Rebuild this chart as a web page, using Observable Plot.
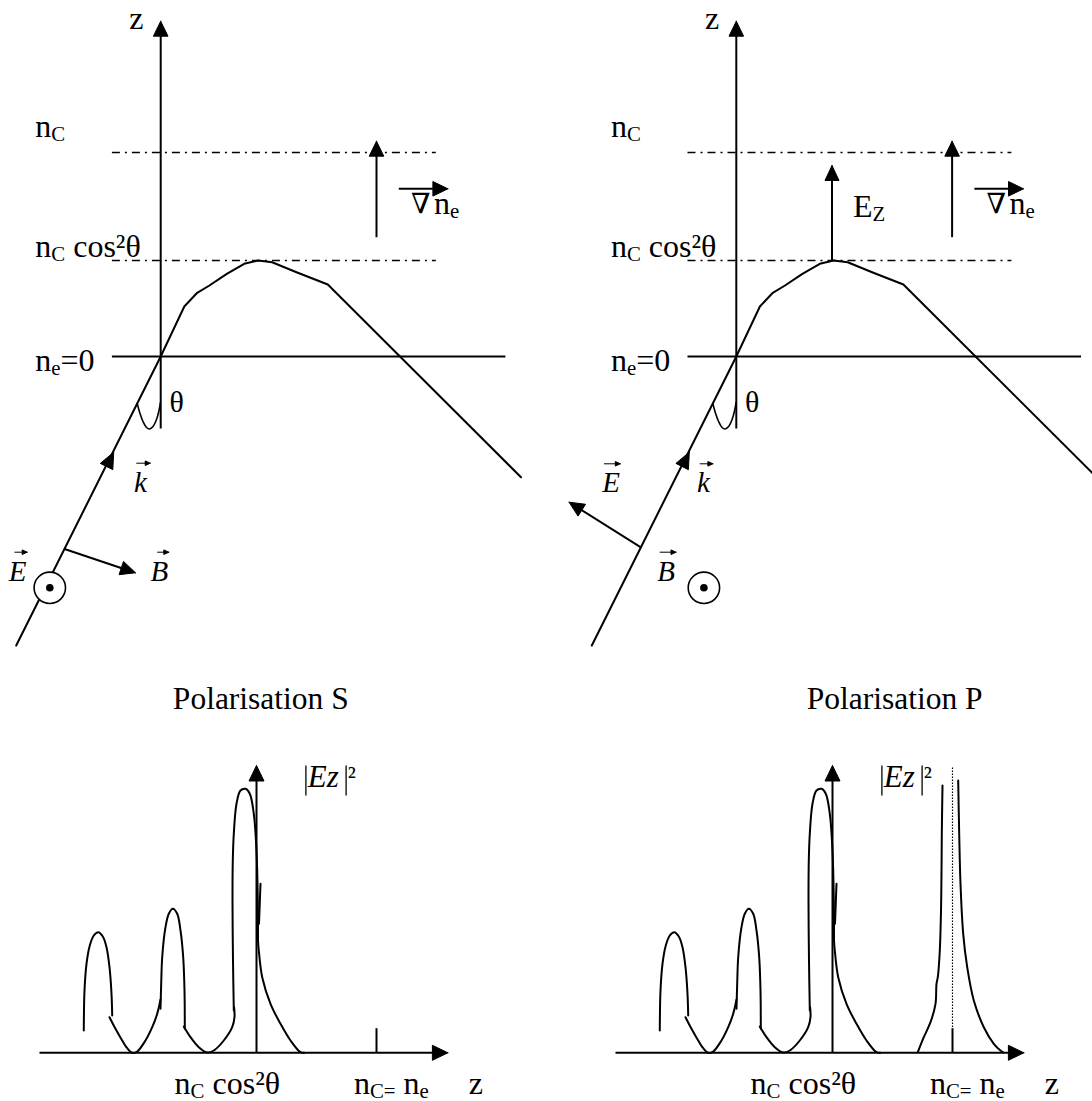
<!DOCTYPE html>
<html>
<head>
<meta charset="utf-8">
<script src="https://cdn.jsdelivr.net/npm/d3@7"></script>
<script src="https://cdn.jsdelivr.net/npm/@observablehq/plot@0.6"></script>
<style>
html, body { margin: 0; padding: 0; background: #fff; overflow: hidden; }
#chart svg text { white-space: pre; font-family: "Liberation Serif", "Times New Roman", "DejaVu Serif", serif !important; }
</style>
</head>
<body>
<div id="chart"></div>
<script>
const W = 1092, H = 1101;
const FONT = "Liberation Serif";

// Diagram units. P panels repeat S geometry, shifted right.
const panels = ["S", "P"];
const shiftTop = {S: 0, P: 575.6};
const shiftBottom = {S: 0, P: 576};

// ---------- top panels: density profile, ray, levels ----------
const densityProfile = [[160.2,356],[183.8,306],[196.7,292.3],[208.9,285],[226.3,273.3],[243.7,263.3],[257.7,260],[271.6,261.7],[296,271.7],[327.3,284],[520.5,476.7]];
const incidentRay = [[160.2,356],[15.7,645]];
const angleArc = [[136.7,403],[139.5,413],[142.5,421],[146,427],[149,428.5],[152.5,426],[156,419],[158.5,410],[160,402]];
const dashedLevels = [{x1:111.4, x2:435.3, y:152}, {x1:111.4, x2:435.3, y:260}];
const solidLevels = [{x1:111.4, x2:504.9, y:356}];
const topLabels = [
  {t:"z", x:128.8, y:28.5, size:32},
  {t:"n_{C}", x:34.8, y:136.7, size:32},
  {t:"n_{C} cos\u00b2\u03b8", x:34.8, y:256.7, size:32},
  {t:"n_{e}=0", x:34.8, y:370, size:32},
  {t:"\u2207", x:410.5, y:212.8, size:28},
  {t:"n_{e}", x:433.5, y:213.3, size:32},
  {t:"\u03b8", x:168.9, y:411, size:30}
];
const ezLabelP = {t:"E_{Z}", x:852.4, y:216.7, size:32};

// arrows: shaft from -> tip
const arrowsTop = [
  {from:[160.2,428], tip:[160.2,20.7]},   // z axis
  {from:[376,236.7], tip:[376,140.7]},    // grad n_e
  {from:[398.3,188.3], tip:[447.4,188.3]} // arrow over nabla
];
const arrowsTopS = [{from:[63.3,548.3], tip:[135,572.3]}];          // B
const arrowsTopP = [{from:[831.5,260], tip:[831.5,165]},              // E_Z
                    {from:[640,546.7], tip:[568.6,501.7]}];            // E
const rayHeadTip = [113.2,451.7];
const circles = {S:[49.3,587.3], P:[703.4,587.3]};

// vector letters (italic) and their small over-arrows
const vectorLetters = [
  {t:"E", x:8.3, y:580, a:[14,26.7,551.7]},
  {t:"B", x:150, y:580, a:[156.7,168.3,551.7]},
  {t:"k", x:133.4, y:491.7, a:[135.8,149.7,462.7]},
  {t:"E", x:601.7, y:491.7, a:[603.4,619.8,463.3]},
  {t:"k", x:696.4, y:491.7, a:[699.2,712.4,463.3]},
  {t:"B", x:656.7, y:580, a:[659.2,675.5,551.7]}
];

// ---------- bottom panels: |Ez|^2 along z ----------
const fieldCommon = [
  {seg:"a", pts:[[83.3,1030],[84,990],[86,963.3],[89.3,945],[93.3,935],[97.7,931.7],[102.3,936],[106,946.7],[109,966.7],[111,993.3],[111.7,1015]]},
  {seg:"b", pts:[[109,1016.7],[115,1028.3],[121.7,1040],[126.7,1047.7],[131.7,1052.3],[136.7,1051],[145,1040],[151.7,1026.7],[156.7,1013.3],[160,999]]},
  {seg:"c", pts:[[160,1008.3],[160.7,983.3],[161.7,956.7],[165,926.7],[168.3,913.3],[172.3,908.3],[176.7,913.3],[180,930],[182.7,956.7],[184,990],[184.3,1028.3]]},
  {seg:"d", pts:[[183.3,1026],[190,1036.7],[198.3,1046.7],[206.7,1052],[213.3,1050],[223.3,1040],[231.7,1026.7],[234,1016.7],[233.6,1006.7]]},
  {seg:"e", pts:[[233.3,1010],[232.5,960],[232,900],[232.3,860],[233.3,833.3],[236,803.3],[240,790],[245,788.3],[249.3,793.3],[253.3,813.3],[256,850],[257.3,900],[257.5,940]]},
  {seg:"f", pts:[[260,883.3],[258.5,923.3]]},
  {seg:"g", pts:[[257.5,940],[258.3,950],[261.7,976.7],[270,1003.3],[280,1023.3],[290,1040],[300,1051.7],[304,1052.3]]}
];
const resonanceP = [
  {seg:"h", pts:[[917.3,1051.7],[923.3,1036.7],[930,1021.7],[935,1003.3],[936,983.3],[937.3,976.7],[939.3,950],[940.7,900],[941.3,833.3],[942,785]]},
  {seg:"i", pts:[[957.7,780],[958.7,833.3],[960,883.3],[962.7,933.3],[966.7,966.7],[973.3,1000],[983.3,1026.7],[993.3,1043.3],[1000,1050],[1003,1052]]}
];
const arrowsBottom = [
  {from:[39,1052.3], tip:[447.4,1052.3]},
  {from:[256,1052.3], tip:[256,765]}
];
const ncTick = {x:376, y1:1027.7, y2:1052.3};
const ncDotted = {x:952, y1:767, y2:1027.7};
const titles = [{t:"Polarisation S", x:260.3, y:708.3}, {t:"Polarisation P", x:894.2, y:708.3}];
const bottomLabels = [
  {t:"n_{C} cos\u00b2\u03b8", x:174.1, y:1093.3},
  {t:"n_{C=} n_{e}", x:353.4, y:1093.3},
  {t:"z", x:468.3, y:1093.3}
];
const ezLabel = {t:"Ez", x:307.3, y:786, size:31, sq:[347.3,784], sqSize:27, bars:[305.4,345.6], barY:[765,795]};

// ---------- build mark tables ----------
const shiftPt = ([x,y], dx) => [x + dx, y];
const profilePts = panels.flatMap(p => densityProfile.map(([x,y]) => ({p, x: x + shiftTop[p], y})));
const rayPts = panels.flatMap(p => incidentRay.map(([x,y]) => ({p, x: x + shiftTop[p], y})));
const arcPts = panels.flatMap(p => angleArc.map(([x,y]) => ({p, x: x + shiftTop[p], y})));
const levelRows = (rows) => panels.flatMap(p => rows.map(r => ({x1: r.x1 + shiftTop[p], x2: r.x2 + shiftTop[p], y: r.y})));

let arrows = [];
panels.forEach(p => arrowsTop.forEach(a => arrows.push({from: shiftPt(a.from, shiftTop[p]), tip: shiftPt(a.tip, shiftTop[p]), len:15, half:7.3})));
arrowsTopS.forEach(a => arrows.push({...a, len:15, half:7}));
arrowsTopP.forEach(a => arrows.push({...a, len:15, half:7}));
panels.forEach(p => arrowsBottom.forEach(a => arrows.push({from: shiftPt(a.from, shiftBottom[p]), tip: shiftPt(a.tip, shiftBottom[p]), len:15.5, half:7.5})));
const small = vectorLetters.map(v => ({from:[v.a[0], v.a[2]], tip:[v.a[1], v.a[2]], len:5, half:2.3}));

function unit(a) {
  const dx = a.tip[0] - a.from[0], dy = a.tip[1] - a.from[1], n = Math.hypot(dx, dy);
  return [dx / n, dy / n];
}
function headPolygon(tip, u, len, half, id) {
  const bx = tip[0] - u[0] * len, by = tip[1] - u[1] * len;
  const px = -u[1] * half, py = u[0] * half;
  return [[tip[0], tip[1]], [bx + px, by + py], [bx - px, by - py], [tip[0], tip[1]]].map(([x, y]) => ({id, x, y}));
}
const shafts = [...arrows, ...small].map(a => {
  const u = unit(a);
  return {x1: a.from[0], y1: a.from[1], x2: a.tip[0] - u[0] * a.len * 0.6, y2: a.tip[1] - u[1] * a.len * 0.6, w: a.len < 10 ? 1 : 2};
});
let heads = [];
arrows.forEach((a, i) => heads.push(...headPolygon(a.tip, unit(a), a.len, a.half, "a" + i)));
small.forEach((a, i) => heads.push(...headPolygon(a.tip, unit(a), a.len, a.half, "s" + i)));
// arrowhead on the incident ray, pointing along k
const rayDir = (() => { const dx = incidentRay[0][0] - incidentRay[1][0], dy = incidentRay[0][1] - incidentRay[1][1], n = Math.hypot(dx, dy); return [dx / n, dy / n]; })();
panels.forEach(p => heads.push(...headPolygon(shiftPt(rayHeadTip, shiftTop[p]), rayDir, 16, 7, "k" + p)));

const circleRows = panels.map(p => ({x: circles[p][0], y: circles[p][1]}));

const fieldPts = [];
panels.forEach(p => fieldCommon.forEach(s => s.pts.forEach(([x, y]) => fieldPts.push({key: p + s.seg, x: x + shiftBottom[p], y}))));
resonanceP.forEach(s => s.pts.forEach(([x, y]) => fieldPts.push({key: "P" + s.seg, x, y})));

const uprightTexts = [];
panels.forEach(p => {
  topLabels.forEach(l => uprightTexts.push({...l, x: l.x + shiftTop[p]}));
  bottomLabels.forEach(l => uprightTexts.push({...l, x: l.x + shiftBottom[p], size: 32}));
  uprightTexts.push({t: "\u00b2", x: ezLabel.sq[0] + shiftBottom[p], y: ezLabel.sq[1], size: ezLabel.sqSize});
});
uprightTexts.push({...ezLabelP});
const italicTexts = [
  ...vectorLetters.map(v => ({t: v.t, x: v.x, y: v.y, size: 29})),
  ...panels.map(p => ({t: ezLabel.t, x: ezLabel.x + shiftBottom[p], y: ezLabel.y, size: ezLabel.size}))
];
const barRows = panels.flatMap(p => ezLabel.bars.map(x => ({x: x + shiftBottom[p], y1: ezLabel.barY[0], y2: ezLabel.barY[1]})));
const tickRows = panels.map(p => ({x: ncTick.x + shiftBottom[p], y1: ncTick.y1, y2: ncTick.y2}));

const chart = Plot.plot({
  width: W, height: H, margin: 0,
  x: {domain: [0, W], range: [0, W], axis: null},
  y: {domain: [0, H], range: [0, H], axis: null},
  style: {background: "white", fontFamily: FONT, color: "black"},
  marks: [
    Plot.link(levelRows(dashedLevels), {x1: "x1", x2: "x2", y1: "y", y2: "y", stroke: "black", strokeWidth: 1.3, strokeDasharray: "8,5,2,5"}),
    Plot.link(levelRows(solidLevels), {x1: "x1", x2: "x2", y1: "y", y2: "y", stroke: "black", strokeWidth: 2}),
    Plot.line(profilePts, {x: "x", y: "y", z: "p", stroke: "black", strokeWidth: 2}),
    Plot.line(rayPts, {x: "x", y: "y", z: "p", stroke: "black", strokeWidth: 2}),
    Plot.line(arcPts, {x: "x", y: "y", z: "p", stroke: "black", strokeWidth: 1.6, curve: "catmull-rom"}),
    Plot.link(shafts, {x1: "x1", y1: "y1", x2: "x2", y2: "y2", stroke: "black", strokeWidth: "w"}),
    Plot.line(heads, {x: "x", y: "y", z: "id", fill: "black", stroke: "black", strokeWidth: 1}),
    Plot.dot(circleRows, {x: "x", y: "y", r: 15.7, fill: "white", stroke: "black", strokeWidth: 1.6}),
    Plot.dot(circleRows, {x: "x", y: "y", r: 3.8, fill: "black", stroke: "none"}),
    Plot.line(fieldPts, {x: "x", y: "y", z: "key", stroke: "black", strokeWidth: 2, curve: "catmull-rom"}),
    Plot.link(tickRows, {x1: "x", x2: "x", y1: "y1", y2: "y2", stroke: "black", strokeWidth: 2}),
    Plot.link([ncDotted], {x1: "x", x2: "x", y1: "y1", y2: "y2", stroke: "black", strokeWidth: 1.2, strokeDasharray: "1.5,1.5"}),
    Plot.link(barRows, {x1: "x", x2: "x", y1: "y1", y2: "y2", stroke: "black", strokeWidth: 1.3}),
    Plot.text(uprightTexts, {x: "x", y: "y", text: "t", fontSize: "size", fontFamily: FONT, textAnchor: "start", lineAnchor: "bottom", fill: "black"}),
    Plot.text(italicTexts, {x: "x", y: "y", text: "t", fontSize: "size", fontFamily: FONT, fontStyle: "italic", textAnchor: "start", lineAnchor: "bottom", fill: "black"}),
    Plot.text(titles, {x: "x", y: "y", text: "t", fontSize: 31.5, fontFamily: FONT, textAnchor: "middle", lineAnchor: "bottom", fill: "black"})
  ]
});

// turn the _{...} markup into real subscripts
chart.querySelectorAll("text").forEach(el => {
  const s = el.textContent;
  if (!s.includes("_{")) return;
  const parts = s.split(/_\{([^}]*)\}/);
  el.textContent = "";
  const ns = "http://www.w3.org/2000/svg";
  let afterSub = false;
  parts.forEach((part, i) => {
    if (part === "") return;
    const ts = document.createElementNS(ns, "tspan");
    ts.textContent = part;
    if (i % 2 === 1) {
      ts.setAttribute("font-size", "0.65em");
      ts.setAttribute("dy", "0.2em");
      afterSub = true;
    } else if (afterSub) {
      ts.setAttribute("dy", "-0.13em");
      afterSub = false;
    }
    el.appendChild(ts);
  });
});

document.getElementById("chart").appendChild(chart);
</script>
</body>
</html>
